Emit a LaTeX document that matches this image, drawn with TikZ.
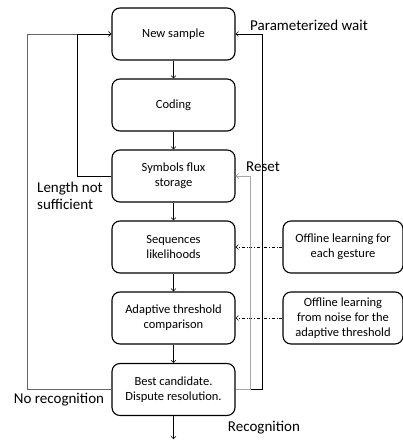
\documentclass[tikz,border=0pt]{standalone}
\usepackage{fontspec}
\setmainfont{Carlito}
\usetikzlibrary{arrows.meta}

\tikzset{
  >={Straight Barb[length=2.5pt,width=5pt]},
  stage/.style={draw, line width=1.1pt, rounded corners=8pt,
    minimum width=123pt, minimum height=52pt, align=center,
    font=\fontsize{12.5}{15}\selectfont},
  offline/.style={stage, minimum width=120pt},
  flow/.style={->, line width=0.5pt},
  learn/.style={flow, dash dot},
  tag/.style={font=\fontsize{15}{17}\selectfont, inner sep=0pt}
}

\begin{document}
\begin{tikzpicture}[x=1pt,y=-1pt]
  \useasboundingbox (0,0) rectangle (403,440);
  \def\xmain{173.5}
  % main chain
  \node[stage] (sample) at (\xmain,34) {New sample};
  \node[stage] (coding) at (\xmain,105) {Coding};
  \node[stage] (storage) at (\xmain,176) {Symbols flux\\storage};
  \node[stage] (likely) at (\xmain,247) {Sequences\\likelihoods};
  \node[stage] (compare) at (\xmain,318) {Adaptive threshold\\comparison};
  \node[stage] (best) at (\xmain,389.5) {Best candidate.\\Dispute resolution.};
  \coordinate (out) at (\xmain,439);
  %
  \node[offline] (gesture) at (343,247) {Offline learning for\\each gesture};
  \node[offline] (noise) at (343,318) {Offline learning\\from noise for the\\adaptive threshold};
  %
  \draw[flow] (sample) -- (coding);
  \draw[flow] (coding) -- (storage);
  \draw[flow] (storage) -- (likely);
  \draw[flow] (likely) -- (compare);
  \draw[flow] (compare) -- (best);
  \draw[flow] (best) -- (out);
  %
  \draw[learn] (gesture) -- (likely);
  \draw[learn] (noise) -- (compare);
  %
  \draw[flow, gray!80!black] (best.west) -- ++(-84,0) |- (sample.west);
  \draw[flow] (storage.west) -- ++(-34,0) |- (sample.west);
  \draw[flow] (best.east) -- ++(27,0) |- (sample.east);
  \draw[flow, gray!70, line width=0.8pt] (best.east) -- ++(15,0) |- (storage.east);
  %
  \node[tag] (waitlbl) at (309,25) {Parameterized wait};
  \node[tag] (resetlbl) at (263,167) {Reset};
  \node[tag, align=left] (lenlbl) at (70,196) {Length not\\sufficient};
  \node[tag] (norec) at (59,400) {No recognition};
  \node[tag] (reclbl) at (264,428) {Recognition};
\end{tikzpicture}
\end{document}
